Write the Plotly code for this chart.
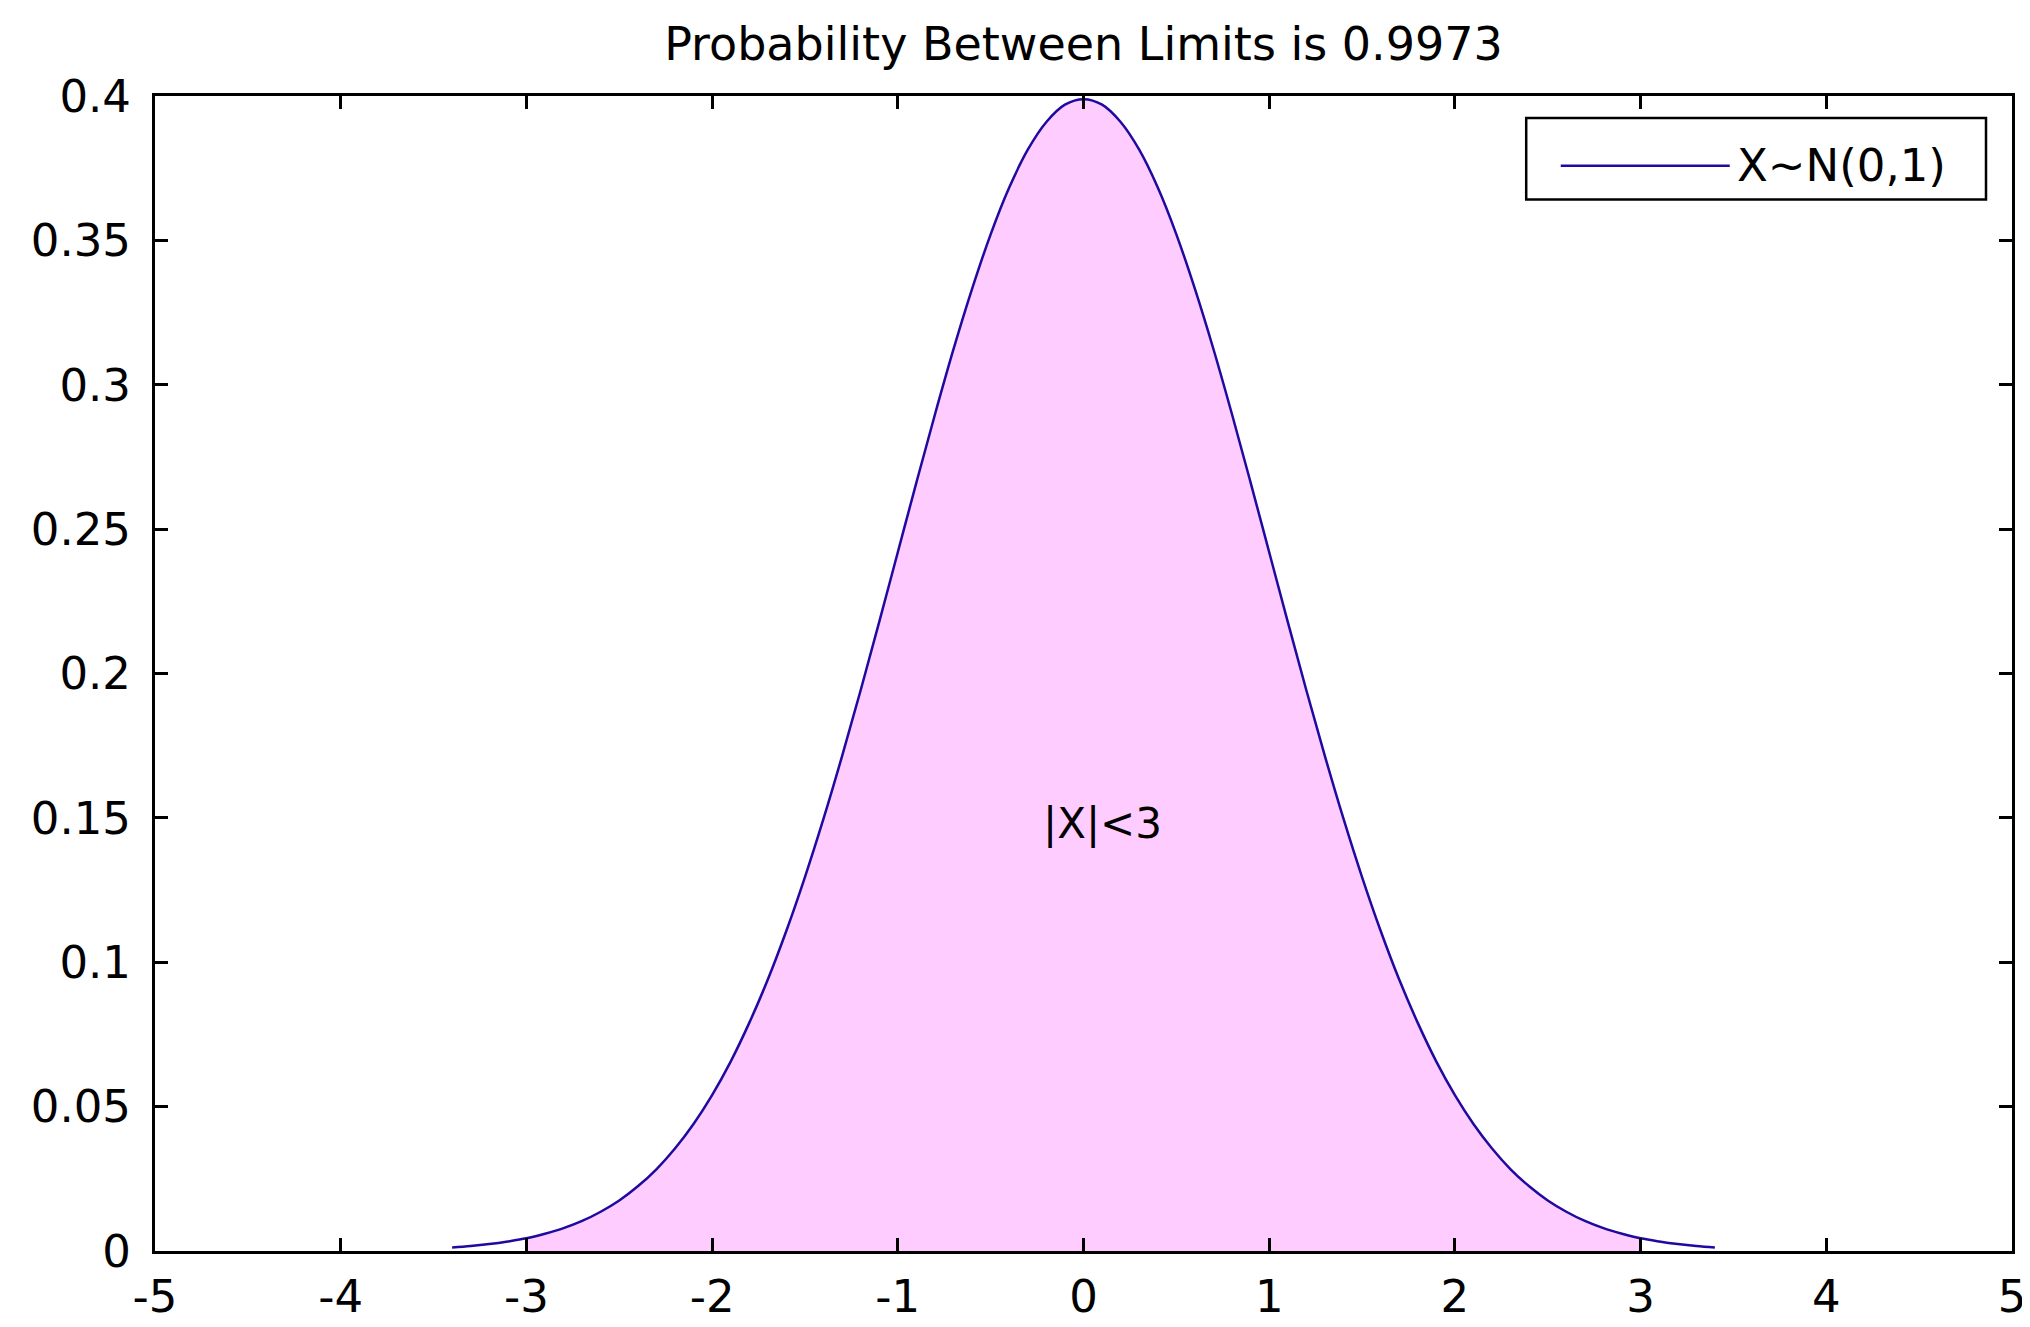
import plotly.graph_objects as go

# Curve values (standard normal density)
x_vals = [-3.4, -3.3, -3.2, -3.1, -3.0, -2.9, -2.8, -2.7, -2.6, -2.5, -2.4, -2.3, -2.2,
          -2.1, -2.0, -1.9, -1.8, -1.7, -1.6, -1.5, -1.4, -1.3, -1.2, -1.1, -1.0,
          -0.9, -0.8, -0.7, -0.6, -0.5, -0.4, -0.3, -0.2, -0.1, 0.0,
          0.1, 0.2, 0.3, 0.4, 0.5, 0.6, 0.7, 0.8, 0.9, 1.0, 1.1, 1.2, 1.3, 1.4,
          1.5, 1.6, 1.7, 1.8, 1.9, 2.0, 2.1, 2.2, 2.3, 2.4, 2.5, 2.6, 2.7, 2.8,
          2.9, 3.0, 3.1, 3.2, 3.3, 3.4]
y_vals = [0.0012, 0.0017, 0.0024, 0.0033, 0.0044, 0.0060, 0.0079, 0.0104, 0.0136,
          0.0175, 0.0224, 0.0283, 0.0355, 0.0440, 0.0540, 0.0656, 0.0790, 0.0940,
          0.1109, 0.1295, 0.1497, 0.1714, 0.1942, 0.2179, 0.2420, 0.2661, 0.2897,
          0.3123, 0.3332, 0.3521, 0.3683, 0.3814, 0.3910, 0.3970, 0.3989,
          0.3970, 0.3910, 0.3814, 0.3683, 0.3521, 0.3332, 0.3123, 0.2897, 0.2661,
          0.2420, 0.2179, 0.1942, 0.1714, 0.1497, 0.1295, 0.1109, 0.0940, 0.0790,
          0.0656, 0.0540, 0.0440, 0.0355, 0.0283, 0.0224, 0.0175, 0.0136, 0.0104,
          0.0079, 0.0060, 0.0044, 0.0033, 0.0024, 0.0017, 0.0012]

limits = [-3.0, 3.0]
x_ticks = [-5, -4, -3, -2, -1, 0, 1, 2, 3, 4, 5]
x_tick_text = ["-5", "-4", "-3", "-2", "-1", "0", "1", "2", "3", "4", "5"]
y_ticks = [0, 0.05, 0.1, 0.15, 0.2, 0.25, 0.3, 0.35, 0.4]
y_tick_text = ["0", "0.05", "0.1", "0.15", "0.2", "0.25", "0.3", "0.35", "0.4"]

title_text = "Probability Between Limits is 0.9973"
legend_text = "X~N(0,1)"
region_text = "|X|<3"

LINE = "#1e0aa0"
FILL = "#ffccff"
FONT = "DejaVu Sans"

fx = [x for x in x_vals if limits[0] <= x <= limits[1]]
fy = [y for x, y in zip(x_vals, y_vals) if limits[0] <= x <= limits[1]]

fig = go.Figure()
fig.add_trace(go.Scatter(x=fx, y=fy, mode="lines", fill="tozeroy", fillcolor=FILL,
                         line=dict(width=0, shape="spline", color=FILL),
                         showlegend=False, hoverinfo="skip"))
fig.add_trace(go.Scatter(x=x_vals, y=y_vals, mode="lines", name=legend_text,
                         line=dict(color=LINE, width=2.5, shape="spline"),
                         showlegend=False))

fig.add_annotation(x=0.1, y=0.148, text=region_text, showarrow=False,
                   font=dict(family=FONT, size=42, color="black"))

# legend box drawn like the original
fig.add_shape(type="rect", xref="paper", yref="paper", x0=0.7384, x1=0.986,
              y0=0.9104, y1=0.981, line=dict(color="black", width=2.5),
              fillcolor="white", layer="above")
fig.add_shape(type="line", xref="paper", yref="paper", x0=0.757, x1=0.848,
              y0=0.9397, y1=0.9397, line=dict(color=LINE, width=2.5), layer="above")
fig.add_annotation(xref="paper", yref="paper", x=0.851, y=0.9397, text=legend_text,
                   showarrow=False, xanchor="left", yanchor="middle",
                   font=dict(family=FONT, size=45, color="black"))

axis_common = dict(showline=True, linecolor="black", linewidth=3, mirror="ticks",
                   ticks="inside", ticklen=13, tickwidth=2.5, tickcolor="black",
                   showgrid=False, zeroline=False,
                   tickfont=dict(family=FONT, size=45, color="black"))

fig.update_xaxes(range=[-5, 5], tickvals=x_ticks, ticktext=x_tick_text,
                 ticklabelstandoff=4, **axis_common)
fig.update_yaxes(range=[0, 0.4], tickvals=y_ticks, ticktext=y_tick_text,
                 ticklabelstandoff=12, **axis_common)

fig.update_layout(
    width=2030, height=1327,
    margin=dict(l=147, r=26, t=88, b=78),
    paper_bgcolor="white", plot_bgcolor="white",
    title=dict(text=title_text, x=0.5, xref="paper", y=1 - 36 / 1327, yref="container",
               xanchor="center", yanchor="middle",
               font=dict(family=FONT, size=46, color="black")),
)

fig.write_html("out.html")
